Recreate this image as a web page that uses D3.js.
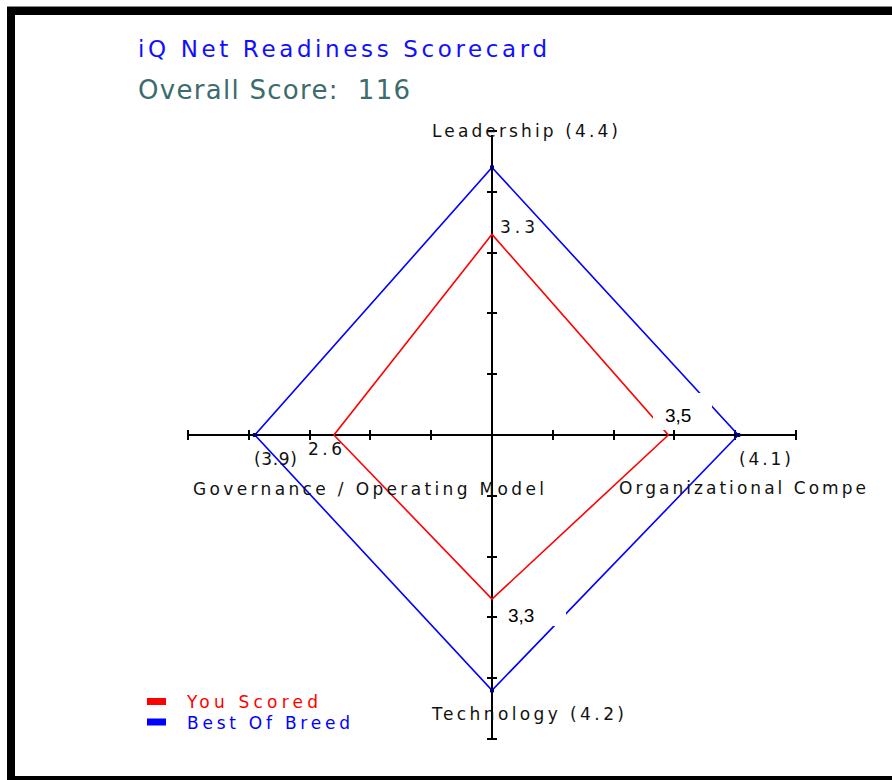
<!DOCTYPE html>
<html>
<head>
<meta charset="utf-8">
<script src="https://cdn.jsdelivr.net/npm/d3@7"></script>
<style>
  body { margin: 0; background: #fff; }
  text { font-family: "DejaVu Sans", Verdana, sans-serif; white-space: pre; }
  text.plain { font-family: "Liberation Sans", Arial, sans-serif; }
</style>
</head>
<body>
<div id="chart-area"></div>
<script>
// Data
var axesNames = ["Leadership", "Organizational Competency", "Technology", "Governance / Operating Model"]
var youScored = [3.3, 2.9, 2.7, 2.6]
var bestOfBreed = [4.4, 4.05, 4.2, 3.9]
var youLabels = ["3.3", "3,5", "3,3", "2.6"]
var bestLabels = ["(4.4)", "(4.1)", "(4.2)", "(3.9)"]
var tickValues = [-5, -4, -3, -2, -1, 0, 1, 2, 3, 4, 5]
var seriesNames = ["You Scored", "Best Of Breed"]

var width = 892, height = 780

var svg = d3.select("#chart-area")
    .append("svg")
        .attr("width", width)
        .attr("height", height)

// Frame (top, left, bottom)
svg.append("rect").attr("x", 7).attr("y", 6).attr("width", 885).attr("height", 1).attr("fill", "#888")
svg.append("rect").attr("x", 7).attr("y", 7).attr("width", 885).attr("height", 8).attr("fill", "#000")
svg.append("rect").attr("x", 7).attr("y", 7).attr("width", 8).attr("height", 773).attr("fill", "#000")
svg.append("rect").attr("x", 7).attr("y", 776).attr("width", 885).attr("height", 4).attr("fill", "#000")

// Titles
svg.append("text")
    .attr("x", 138).attr("y", 57)
    .attr("font-size", 23)
    .attr("fill", "#1010ff")
    .attr("textLength", 409).attr("lengthAdjust", "spacing")
    .text("iQ Net Readiness Scorecard")

svg.append("text")
    .attr("x", 138).attr("y", 99)
    .attr("font-size", 26)
    .attr("fill", "#3c6c6c")
    .attr("textLength", 272).attr("lengthAdjust", "spacing")
    .text("Overall Score:  116")

// Scales
var x = d3.scaleLinear().domain([-5, 5]).range([188, 796])
var y = d3.scaleLinear().domain([-5, 5]).range([739, 131])

// direction of each spoke: up, right, down, left
var dirs = [[0, 1], [1, 0], [0, -1], [-1, 0]]
function pt(v, i) { return [x(dirs[i][0] * v), y(dirs[i][1] * v)] }

var line = d3.line().curve(d3.curveLinearClosed)

// Axes
var g = svg.append("g").attr("stroke", "#000").attr("stroke-width", 2).attr("shape-rendering", "crispEdges")
g.append("line").attr("x1", x(-5)).attr("x2", x(5)).attr("y1", y(0)).attr("y2", y(0))
g.append("line").attr("x1", x(0)).attr("x2", x(0)).attr("y1", y(5) + 4).attr("y2", y(-5))
g.selectAll(".xt").data(tickValues).enter().append("line")
    .attr("x1", d => x(d)).attr("x2", d => x(d))
    .attr("y1", y(0) - 5).attr("y2", y(0) + 5)
g.selectAll(".yt").data(tickValues.filter(d => d != 0)).enter().append("line")
    .attr("x1", x(0) - 5).attr("x2", x(0) + 5)
    .attr("y1", d => y(d)).attr("y2", d => y(d))

// Series polygons
svg.append("path")
    .attr("d", line(bestOfBreed.map(pt)))
    .attr("fill", "none").attr("stroke", "#0000ff").attr("stroke-width", 1.6)
svg.append("path")
    .attr("d", line(youScored.map(pt)))
    .attr("fill", "none").attr("stroke", "#ff0000").attr("stroke-width", 1.6)

// Value markers on the best-of-breed vertices
svg.selectAll(".mk").data(bestOfBreed).enter().append("rect")
    .attr("x", (d, i) => pt(d, i)[0] - 2).attr("y", (d, i) => pt(d, i)[1] - 2)
    .attr("width", 4).attr("height", 4).attr("fill", "#000080")

// white label boxes pasted over the lines
svg.append("rect").attr("x", 653).attr("y", 393).attr("width", 59).attr("height", 37).attr("fill", "#fff")
svg.append("rect").attr("x", 498).attr("y", 600).attr("width", 68).attr("height", 26).attr("fill", "#fff")

// Axis labels
var lab = svg.append("g").attr("font-size", 17).attr("fill", "#111")
lab.append("text").attr("x", 432).attr("y", 137)
    .attr("textLength", 186).attr("lengthAdjust", "spacing")
    .text(axesNames[0] + " " + bestLabels[0])
lab.append("text").attr("x", 619).attr("y", 494)
    .attr("textLength", 247).attr("lengthAdjust", "spacing")
    .text(axesNames[1].slice(0, 20))
lab.append("text").attr("x", 739).attr("y", 465)
    .attr("textLength", 52).attr("lengthAdjust", "spacing")
    .text(bestLabels[1])
lab.append("text").attr("x", 432).attr("y", 720)
    .attr("textLength", 192).attr("lengthAdjust", "spacing")
    .text(axesNames[2] + " " + bestLabels[2])
lab.append("text").attr("x", 193).attr("y", 495)
    .attr("textLength", 351).attr("lengthAdjust", "spacing")
    .text(axesNames[3])
lab.append("text").attr("x", 254).attr("y", 465)
    .attr("textLength", 43).attr("lengthAdjust", "spacing")
    .text(bestLabels[3])

// Score labels
lab.append("text").attr("x", 500).attr("y", 233)
    .attr("textLength", 35).attr("lengthAdjust", "spacing")
    .text(youLabels[0])
lab.append("text").attr("x", 308).attr("y", 455)
    .attr("textLength", 34).attr("lengthAdjust", "spacing")
    .text(youLabels[3])
svg.append("text").attr("class", "plain").attr("x", 665).attr("y", 422).attr("font-size", 19).attr("fill", "#000")
    .text(youLabels[1])
svg.append("text").attr("class", "plain").attr("x", 508).attr("y", 622).attr("font-size", 19).attr("fill", "#000")
    .text(youLabels[2])

// Legend
var legColors = ["#ff0000", "#0000ff"]
var leg = svg.selectAll(".leg").data(seriesNames).enter().append("g")
    .attr("transform", (d, i) => "translate(147, " + (698 + i * 20.5) + ")")
leg.append("rect").attr("width", 19).attr("height", 7).attr("fill", (d, i) => legColors[i])
leg.append("text")
    .attr("x", 40).attr("y", 10)
    .attr("font-size", 17)
    .attr("fill", (d, i) => legColors[i])
    .attr("textLength", (d, i) => i == 0 ? 131 : 163).attr("lengthAdjust", "spacing")
    .text(d => d)
</script>
</body>
</html>
